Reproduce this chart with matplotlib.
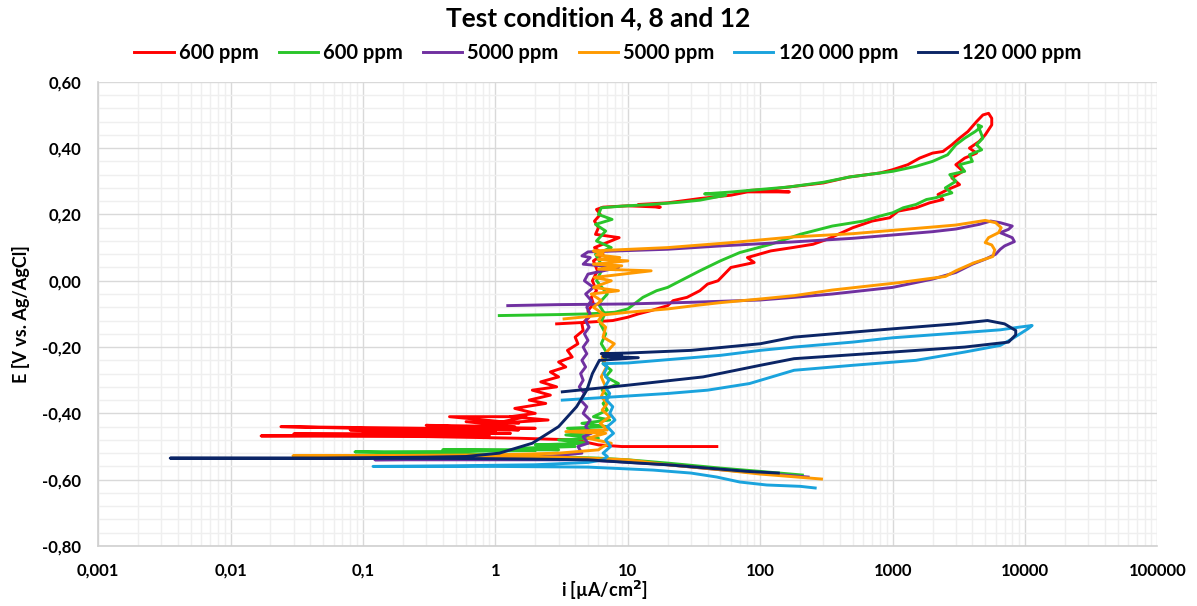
import numpy as np
import matplotlib
matplotlib.use("Agg")
import matplotlib.pyplot as plt
from matplotlib.ticker import FixedLocator, MultipleLocator, FuncFormatter, NullFormatter

plt.rcParams['font.family'] = ['Lato', 'DejaVu Sans']
plt.rcParams['font.weight'] = 'bold'

# series labels and colours
labels = ["600 ppm", "600 ppm", "5000 ppm", "5000 ppm", "120 000 ppm", "120 000 ppm"]
colors = ["#FF0000", "#2AC52A", "#7030A0", "#FF9A00", "#1AA3DD", "#0B2566"]

x_ticks = [0.001, 0.01, 0.1, 1, 10, 100, 1000, 10000, 100000]

# --- 600 ppm (red): current density [µA/cm2] and potential [V]
red_i = [47, 20, 9, 6, 4, 1.5, 0.3, 0.017, 0.2, 0.03, 0.5, 0.1, 1.0, 0.08, 0.6, 0.024, 0.3, 1.5, 0.5, 2.0,
         0.12, 1.0, 0.2, 1.3, 0.15, 0.9, 0.35, 1.2, 0.3, 1.4, 0.6, 1.5, 0.45, 1.7,
         1.0, 2.5, 1.3, 2.0, 1.4, 2.4, 1.8, 2.6, 1.9, 2.9, 2.2, 3.0, 2.6, 3.4, 3.0, 3.8, 3.5, 4.2, 4.0, 4.6,
         4.5, 5.1, 5.0, 5.5, 5.3, 5.8, 5.4, 5.9, 5.5, 6.5, 5.6, 8.6, 5.7, 6.0, 5.6, 6.2, 5.8, 6.5,
         10, 17.6, 12, 20, 35, 60, 80, 166, 80, 120, 166, 300, 473, 800, 1000, 1300, 1600, 2000, 2400,
         2800, 3200, 3700, 4300, 4800, 5300, 5600,
         5600, 5000, 4500, 3800, 4300, 3500, 3000, 3400, 2800, 3200, 2600, 2200, 2400, 1900, 1500, 1100,
         950, 700, 500, 320, 250, 175, 120, 80, 90, 60, 48, 40, 35, 28, 22, 20, 15, 12, 10, 7.7, 5, 2.9]
red_E = [-0.50, -0.50, -0.50, -0.495, -0.48, -0.475, -0.47, -0.468, -0.465, -0.462, -0.46, -0.455, -0.458,
         -0.45, -0.452, -0.44, -0.445, -0.45, -0.44, -0.445,
         -0.448, -0.452, -0.456, -0.46, -0.463, -0.466, -0.442, -0.447, -0.436, -0.44,
         -0.425, -0.43, -0.41, -0.41,
         -0.43, -0.42, -0.41, -0.40, -0.385, -0.37, -0.36, -0.345, -0.33, -0.32, -0.305, -0.29, -0.275,
         -0.26, -0.245, -0.23, -0.21, -0.19, -0.17, -0.15, -0.13, -0.11, -0.09, -0.07, -0.05, -0.03, 0.0,
         0.03, 0.06, 0.08, 0.10, 0.13, 0.14, 0.16, 0.18, 0.20, 0.215, 0.222,
         0.226, 0.222, 0.23, 0.235, 0.248, 0.258, 0.268, 0.268, 0.272, 0.276, 0.283, 0.295, 0.313, 0.325,
         0.335, 0.35, 0.37, 0.385, 0.39, 0.41, 0.43, 0.45, 0.48, 0.50, 0.505, 0.49,
         0.47, 0.44, 0.42, 0.40, 0.385, 0.37, 0.35, 0.33, 0.31, 0.29, 0.275, 0.26, 0.245, 0.235, 0.22,
         0.21, 0.19, 0.18, 0.16, 0.125, 0.11, 0.10, 0.09, 0.07, 0.055, 0.04, 0.0, -0.01, -0.03, -0.05,
         -0.06, -0.075, -0.09, -0.10, -0.11, -0.12, -0.125, -0.13]

# --- 600 ppm (green)
green_i = [208, 100, 50, 20, 10, 6, 1, 0.087, 0.5, 2, 0.4, 3, 1.5, 4, 2.0, 5, 3, 6, 3.4, 6.5, 3.5, 7, 4.5,
           7.3, 5.5, 7.0, 6.5, 7.2, 6.4, 8.5, 6.8, 7.5, 6.5, 7.0, 6.3, 6.8, 6.2, 6.7, 6.0, 7.0, 5.8, 6.5,
           5.7, 7.5, 5.8, 6.8, 5.7, 7.6, 6.0, 6.3,
           9, 15, 25, 35, 55, 38, 62, 80, 166, 300, 473, 1000, 1500, 2000, 2600, 3000, 3500, 4200, 4700,
           4400,
           4800, 4300, 4700, 3800, 4000, 3200, 3500, 2700, 3000, 2500, 2800, 2100, 1800, 1500, 1200, 1000,
           800, 600, 350, 200, 120, 70, 50, 35, 25, 20, 16.5, 13, 10, 8, 5, 3, 1.07]
green_E = [-0.586, -0.575, -0.565, -0.55, -0.54, -0.535, -0.525, -0.516, -0.515, -0.512, -0.51, -0.51,
           -0.505, -0.50, -0.495, -0.49, -0.48, -0.475, -0.465, -0.455, -0.445, -0.44, -0.43, -0.42,
           -0.41, -0.39, -0.37, -0.35, -0.33, -0.31, -0.29, -0.27, -0.25, -0.22, -0.19, -0.16, -0.13,
           -0.10, -0.07, -0.04, 0.0, 0.04, 0.08, 0.10, 0.12, 0.15, 0.17, 0.185, 0.20, 0.22,
           0.225, 0.23, 0.237, 0.243, 0.258, 0.262, 0.268, 0.272, 0.283, 0.297, 0.313, 0.33, 0.345,
           0.36, 0.38, 0.41, 0.43, 0.45, 0.465, 0.47,
           0.43, 0.41, 0.395, 0.38, 0.36, 0.35, 0.33, 0.32, 0.30, 0.28, 0.265, 0.25, 0.245, 0.23, 0.22,
           0.205, 0.195, 0.18, 0.165, 0.14, 0.11, 0.085, 0.06, 0.03, 0.0, -0.02, -0.03, -0.05, -0.085,
           -0.095, -0.10, -0.102, -0.105]

# --- 5000 ppm (purple)
purple_i = [230, 100, 50, 20, 8, 4, 1, 0.123, 0.5, 2.5, 4.5,
            4.2, 5.0, 4.6, 5.3, 4.8, 5.2, 4.6, 4.9, 4.4, 4.7, 4.3, 4.6, 4.4, 4.8, 4.5, 4.9, 4.6, 5.0,
            4.7, 5.1, 4.8, 5.2, 4.9, 5.3, 4.8, 5.5, 4.7, 5.0, 8.5, 4.6, 5.2, 4.5, 5.0,
            20, 50, 175, 500, 1000, 2000, 3000, 4500, 5500, 6500, 8000, 7500, 6500, 8000, 8300, 7000,
            6500, 6000, 5000, 4000, 3000, 2000, 1000, 350, 180, 100, 30, 10, 3, 1.24]
purple_E = [-0.592, -0.58, -0.57, -0.555, -0.545, -0.54, -0.54, -0.54, -0.538, -0.53, -0.52,
            -0.50, -0.49, -0.47, -0.46, -0.44, -0.42, -0.40, -0.38, -0.36, -0.34, -0.32, -0.30, -0.28,
            -0.26, -0.24, -0.22, -0.20, -0.18, -0.16, -0.14, -0.12, -0.10, -0.08, -0.06, -0.04, -0.02,
            0.0, 0.02, 0.04, 0.05, 0.07, 0.075, 0.087,
            0.095, 0.105, 0.117, 0.128, 0.138, 0.148, 0.156, 0.17, 0.18, 0.175, 0.165, 0.155, 0.145,
            0.13, 0.118, 0.105, 0.095, 0.08, 0.065, 0.05, 0.025, 0.005, -0.02, -0.04, -0.05, -0.058,
            -0.065, -0.07, -0.072, -0.075]

# --- 5000 ppm (orange)
orange_i = [290, 100, 50, 20, 10, 5, 2, 0.5, 0.0296, 0.2, 1, 3, 6,
            6.5, 7.5, 5.0, 6.8, 3.4, 7.0, 6.2, 7.3, 6.4, 7.0, 6.3, 6.8, 6.3, 6.9, 6.4, 7.9, 6.5, 6.8,
            6.0, 6.5, 5.5, 6.3, 5.3, 8.5, 5.5, 7.5, 5.6, 15, 6.0, 9, 5.5, 10, 6.0, 8.7, 5.8, 6.5, 5.5,
            20, 60, 175, 500, 1000, 2000, 3000, 5000,
            6000, 6600, 6300, 5300, 5000, 5600, 5900, 5700, 4100, 3000, 2500, 1100, 350, 180, 100, 50,
            35, 20, 10, 5, 3.3]
orange_E = [-0.598, -0.583, -0.57, -0.555, -0.54, -0.535, -0.53, -0.528, -0.528, -0.527, -0.525, -0.52,
            -0.51, -0.50, -0.49, -0.475, -0.46, -0.455, -0.45, -0.43, -0.41, -0.39, -0.37, -0.35,
            -0.32, -0.29, -0.26, -0.23, -0.19, -0.17, -0.14, -0.12, -0.10, -0.08, -0.06, -0.04, -0.03,
            -0.02, 0.0, 0.01, 0.03, 0.035, 0.045, 0.05, 0.06, 0.065, 0.07, 0.078, 0.085, 0.09,
            0.10, 0.115, 0.132, 0.142, 0.152, 0.162, 0.168, 0.182,
            0.175, 0.16, 0.145, 0.13, 0.115, 0.108, 0.093, 0.073, 0.054, 0.03, 0.013, -0.006, -0.028,
            -0.045, -0.055, -0.066, -0.073, -0.085, -0.095, -0.108, -0.115]

# --- 120 000 ppm (light blue)
lblue_i = [260, 200, 112, 70, 47, 30, 15.5, 5, 1, 0.119, 0.5, 2, 5, 6.5,
           7.0, 6.5, 7.4, 6.8, 7.8, 7.0, 8.0, 7.3, 7.7, 6.9, 7.3, 6.7, 7.2, 6.6, 7.0, 6.5,
           10, 20, 50, 100, 180, 500, 1000, 3000, 6500, 9000, 11300, 10500,
           8000, 6500, 3500, 1500, 500, 180, 83, 40, 20, 8, 3.2]
lblue_E = [-0.625, -0.62, -0.616, -0.607, -0.592, -0.58, -0.571, -0.562, -0.56, -0.56, -0.558, -0.555,
           -0.548, -0.54, -0.53, -0.52, -0.50, -0.48, -0.46, -0.44, -0.42, -0.40, -0.38, -0.36, -0.34,
           -0.32, -0.30, -0.28, -0.26, -0.25,
           -0.248, -0.238, -0.225, -0.21, -0.20, -0.185, -0.172, -0.158, -0.148, -0.14, -0.135, -0.145,
           -0.175, -0.195, -0.215, -0.24, -0.255, -0.27, -0.31, -0.33, -0.34, -0.35, -0.36]

# --- 120 000 ppm (navy)
navy_i = [137, 80, 40, 20, 10, 5, 2, 0.5, 0.0035, 0.05, 0.3, 0.6, 1.07, 1.9, 3.0, 4.1, 4.9, 5.4, 6.1,
          12, 6.5, 9, 6.3,
          10, 30, 100, 180, 500, 1000, 3000, 5200, 7000, 8500, 8500,
          7500, 3500, 1000, 180, 100, 37, 10, 3.2]
navy_E = [-0.58, -0.575, -0.565, -0.555, -0.548, -0.54, -0.538, -0.536, -0.535, -0.535, -0.532, -0.53,
          -0.52, -0.49, -0.44, -0.38, -0.33, -0.28, -0.24, -0.232, -0.228, -0.225, -0.22,
          -0.218, -0.21, -0.19, -0.17, -0.155, -0.145, -0.13, -0.12, -0.13, -0.15, -0.163,
          -0.185, -0.20, -0.215, -0.235, -0.255, -0.29, -0.315, -0.335]

series = [(red_i, red_E), (green_i, green_E), (purple_i, purple_E),
          (orange_i, orange_E), (lblue_i, lblue_E), (navy_i, navy_E)]

fig = plt.figure(figsize=(11.97, 6.06), dpi=100)
ax = fig.add_axes([0.082, 0.099, 0.885, 0.766])

for (xi, yi), c, lab in zip(series, colors, labels):
    ax.plot(xi, yi, color=c, lw=2.1, label=lab, solid_joinstyle='round')

ax.set_xscale('log')
ax.set_xlim(0.001, 100000)
ax.set_ylim(-0.80, 0.60)

ax.xaxis.set_major_locator(FixedLocator(x_ticks))
ax.xaxis.set_minor_locator(FixedLocator([m * d for d in x_ticks[:-1] for m in range(2, 10)]))
ax.xaxis.set_minor_formatter(NullFormatter())
ax.yaxis.set_major_locator(MultipleLocator(0.2))
ax.yaxis.set_minor_locator(MultipleLocator(0.04))


def fmt_x(v, pos):
    s = f"{v:.3f}".rstrip('0').rstrip('.') if v < 1 else f"{v:.0f}"
    return s.replace('.', ',')


def fmt_y(v, pos):
    return f"{v:.2f}".replace('.', ',').replace('-0,00', '0,00')


ax.xaxis.set_major_formatter(FuncFormatter(fmt_x))
ax.yaxis.set_major_formatter(FuncFormatter(fmt_y))

ax.grid(which='major', color='#D9D9D9', lw=1.0)
ax.grid(which='minor', color='#EFEFEF', lw=1.0)
ax.set_axisbelow(True)
for s in ['top', 'right']:
    ax.spines[s].set_visible(False)
for s in ['left', 'bottom']:
    ax.spines[s].set_color('#D0D0D0')
    ax.spines[s].set_linewidth(1.2)
ax.tick_params(which='both', length=0, labelsize=12)
ax.tick_params(axis='y', pad=12)
ax.tick_params(axis='x', pad=12)
for t in ax.get_xticklabels() + ax.get_yticklabels():
    t.set_fontweight('bold')

ax.set_xlabel("i [µA/cm$^\\mathbf{2}$]", fontsize=13, fontweight='bold')
ax.xaxis.set_label_coords(0.478, -0.07)
ax.set_ylabel("E [V vs. Ag/AgCl]", fontsize=13, fontweight='bold', labelpad=9)

fig.suptitle("Test condition 4, 8 and 12", fontsize=19, fontweight='bold', y=0.99)
fig.legend(loc='center', bbox_to_anchor=(0.508, 0.912), ncol=6, frameon=False,
           handlelength=1.95, handletextpad=0.25, columnspacing=1.0,
           prop={'weight': 'bold', 'size': 14.5})

fig.savefig("out.png", dpi=100)
